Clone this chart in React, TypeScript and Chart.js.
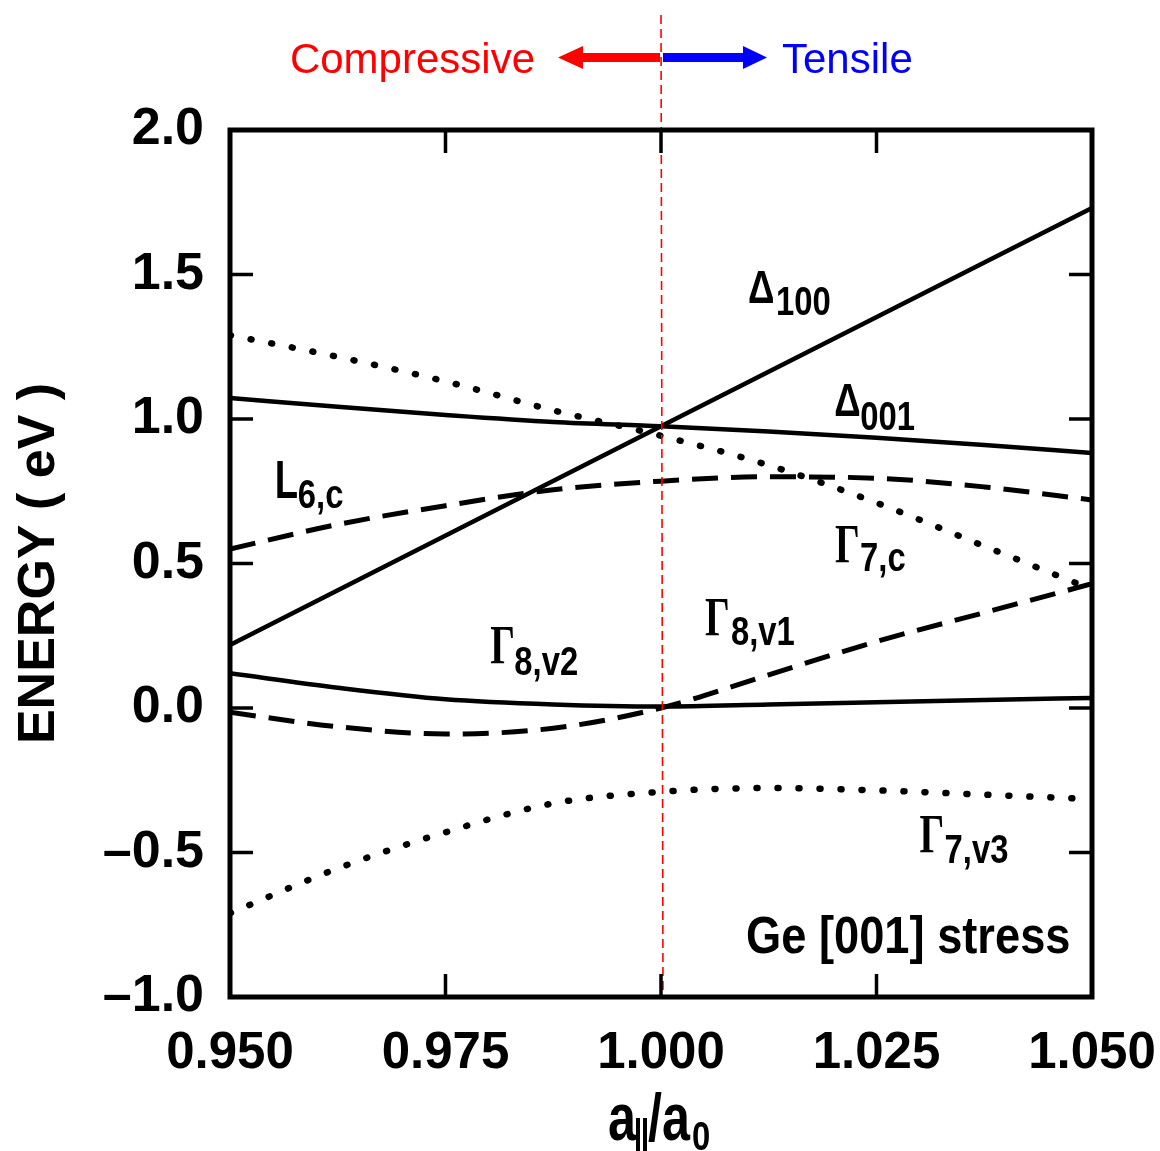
import React, { useEffect, useRef } from 'react';
import { Chart, registerables } from 'chart.js';

Chart.register(...registerables);

// ---- data ----
const X_GRID = [0.95, 0.9625, 0.975, 0.9875, 1.0, 1.0125, 1.025, 1.0375, 1.05];
const DELTA100_X = [0.95, 1.0, 1.05];
const DELTA100 = [0.218, 0.975, 1.73];
const DELTA001 = [1.073, 1.042, 1.014, 0.99, 0.975, 0.957, 0.935, 0.91, 0.882];
const GAMMA7C = [1.29, 1.215, 1.13, 1.03, 0.942, 0.84, 0.71, 0.56, 0.41];
const L6C = [0.55, 0.635, 0.7, 0.755, 0.785, 0.8, 0.795, 0.765, 0.72];
const GAMMA8V2 = [0.12, 0.07, 0.03, 0.012, 0.005, 0.012, 0.02, 0.028, 0.035];
const GAMMA8V1 = [-0.015, -0.065, -0.09, -0.07, 0.0, 0.115, 0.23, 0.33, 0.43];
const GAMMA7V3 = [-0.71, -0.555, -0.43, -0.33, -0.29, -0.277, -0.285, -0.3, -0.315];

const X_TICKS = [0.95, 0.975, 1.0, 1.025, 1.05];
const Y_TICKS = [-1.0, -0.5, 0.0, 0.5, 1.0, 1.5, 2.0];

const SANS = "'Liberation Sans', Arial, sans-serif";
const SERIF = "'Liberation Serif', 'DejaVu Serif', serif";

const zip = (xs: number[], ys: number[]) => xs.map((x, i) => ({ x, y: ys[i] }));

function txt(
  ctx: CanvasRenderingContext2D,
  s: string,
  x: number,
  y: number,
  font: string,
  color: string,
  sx = 1,
  align: CanvasTextAlign = 'left'
) {
  ctx.save();
  ctx.font = font;
  ctx.fillStyle = color;
  ctx.textBaseline = 'alphabetic';
  ctx.textAlign = align;
  ctx.translate(x, y);
  ctx.scale(sx, 1);
  ctx.fillText(s, 0, 0);
  ctx.restore();
}

type Lbl = { main: string; sub: string; x: number; y: number; dx: number; dy: number; kind: 'D' | 'L' | 'G' };
const LABELS: Lbl[] = [
  { main: '\u0394', sub: '100', x: 1.0101, y: 1.401, dx: 28, dy: 12, kind: 'D' },
  { main: '\u0394', sub: '001', x: 1.0201, y: 1.0104, dx: 26, dy: 14, kind: 'D' },
  { main: 'L', sub: '6,c', x: 0.9552, y: 0.7266, dx: 23, dy: 10, kind: 'L' },
  { main: '\u0393', sub: '7,c', x: 1.0202, y: 0.5052, dx: 25, dy: 9, kind: 'G' },
  { main: '\u0393', sub: '8,v1', x: 1.0051, y: 0.2526, dx: 26, dy: 10, kind: 'G' },
  { main: '\u0393', sub: '8,v2', x: 0.9802, y: 0.1557, dx: 24, dy: 12, kind: 'G' },
  { main: '\u0393', sub: '7,v3', x: 1.03, y: -0.4983, dx: 25, dy: 11, kind: 'G' },
];

const decor = {
  id: 'decor',
  beforeDraw(chart: any) {
    const ctx = chart.ctx as CanvasRenderingContext2D;
    ctx.save();
    ctx.fillStyle = '#ffffff';
    ctx.fillRect(0, 0, chart.width, chart.height);
    ctx.restore();
  },
  afterDraw(chart: any) {
    const ctx = chart.ctx as CanvasRenderingContext2D;
    const { left, right, top, bottom } = chart.chartArea;
    const xs = chart.scales.x;
    const ys = chart.scales.y;

    // labels
    for (const l of LABELS) {
      const px = xs.getPixelForValue(l.x);
      const py = ys.getPixelForValue(l.y);
      if (l.kind === 'D') txt(ctx, l.main, px, py, `bold 46px ${SANS}`, '#000', 0.8);
      else if (l.kind === 'L') txt(ctx, l.main, px, py, `bold 53px ${SANS}`, '#000', 0.72);
      else txt(ctx, l.main, px, py, `bold 54px ${SERIF}`, '#000', 0.72);
      txt(ctx, l.sub, px + l.dx, py + l.dy, `bold 40px ${SANS}`, '#000', 0.82);
    }
    txt(ctx, 'Ge [001] stress', xs.getPixelForValue(1.0475), ys.getPixelForValue(-0.8478), `bold 52px ${SANS}`, '#000', 0.87, 'right');

    // red dashed vertical line at a/a0 = 1
    const x1 = xs.getPixelForValue(1.0);
    ctx.save();
    ctx.strokeStyle = '#ff0000';
    ctx.lineWidth = 1.6;
    ctx.setLineDash([9, 5]);
    ctx.beginPath();
    ctx.moveTo(x1, 15);
    ctx.lineTo(x1 + 2, bottom);
    ctx.stroke();
    ctx.restore();

    // frame
    ctx.save();
    ctx.strokeStyle = '#000';
    ctx.lineWidth = 5;
    ctx.strokeRect(left, top, right - left, bottom - top);
    // inward ticks
    ctx.lineWidth = 3.5;
    const tl = 23;
    for (const t of xs.ticks) {
      if (t.value <= xs.min || t.value >= xs.max) continue;
      const p = xs.getPixelForValue(t.value);
      ctx.beginPath();
      ctx.moveTo(p, bottom);
      ctx.lineTo(p, bottom - tl);
      ctx.moveTo(p, top);
      ctx.lineTo(p, top + tl);
      ctx.stroke();
    }
    for (const t of ys.ticks) {
      if (t.value <= ys.min || t.value >= ys.max) continue;
      const p = ys.getPixelForValue(t.value);
      ctx.beginPath();
      ctx.moveTo(left, p);
      ctx.lineTo(left + tl, p);
      ctx.moveTo(right, p);
      ctx.lineTo(right - tl, p);
      ctx.stroke();
    }
    ctx.restore();

    // arrows
    const ay = 57.5;
    ctx.save();
    ctx.fillStyle = '#ff0000';
    ctx.beginPath();
    ctx.moveTo(x1 - 1, ay - 4.5);
    ctx.lineTo(x1 - 78, ay - 4.5);
    ctx.lineTo(x1 - 78, ay - 11.5);
    ctx.lineTo(x1 - 103, ay);
    ctx.lineTo(x1 - 78, ay + 11.5);
    ctx.lineTo(x1 - 78, ay + 4.5);
    ctx.lineTo(x1 - 1, ay + 4.5);
    ctx.closePath();
    ctx.fill();
    ctx.fillStyle = '#0000ff';
    ctx.beginPath();
    ctx.moveTo(x1 + 2, ay - 4.5);
    ctx.lineTo(x1 + 82, ay - 4.5);
    ctx.lineTo(x1 + 82, ay - 11.5);
    ctx.lineTo(x1 + 106, ay);
    ctx.lineTo(x1 + 82, ay + 11.5);
    ctx.lineTo(x1 + 82, ay + 4.5);
    ctx.lineTo(x1 + 2, ay + 4.5);
    ctx.closePath();
    ctx.fill();
    ctx.restore();
    txt(ctx, 'Compressive', x1 - 126, 73, `42px ${SANS}`, '#ff0000', 1, 'right');
    txt(ctx, 'Tensile', x1 + 121, 73, `42px ${SANS}`, '#0000ff', 1, 'left');

    // x-axis title a_||/a_0
    const cx = xs.getPixelForValue(1.0);
    const base = 1140;
    const big = `bold 67px ${SANS}`;
    const small = `bold 40px ${SANS}`;
    txt(ctx, 'a', cx - 53, base, big, '#000', 0.75);
    ctx.save();
    ctx.strokeStyle = '#000';
    ctx.lineWidth = 4;
    ctx.beginPath();
    ctx.moveTo(cx - 23, base - 22);
    ctx.lineTo(cx - 23, base + 11);
    ctx.moveTo(cx - 16, base - 22);
    ctx.lineTo(cx - 16, base + 11);
    ctx.stroke();
    ctx.restore();
    txt(ctx, '/', cx - 13, base, big, '#000', 0.75);
    txt(ctx, 'a', cx + 1, base, big, '#000', 0.75);
    txt(ctx, '0', cx + 31, base + 10, small, '#000', 0.82);
  },
};

export default function App() {
  const ref = useRef<HTMLCanvasElement>(null);
  useEffect(() => {
    document.body.style.margin = '0';
    const solid = { borderColor: '#000', borderWidth: 4.5, pointRadius: 0, cubicInterpolationMode: 'monotone' as const, fill: false };
    const dashed = { ...solid, borderWidth: 5, borderDash: [26, 13] };
    const dotted = { ...solid, borderWidth: 6.5, borderDash: [1, 20], borderCapStyle: 'round' as const };
    const chart = new Chart(ref.current!, {
      type: 'line',
      data: {
        datasets: [
          { label: '\u0394100', data: zip(DELTA100_X, DELTA100), ...solid },
          { label: '\u0394001', data: zip(X_GRID, DELTA001), ...solid },
          { label: '\u03937,c', data: zip(X_GRID, GAMMA7C), ...dotted },
          { label: 'L6,c', data: zip(X_GRID, L6C), ...dashed },
          { label: '\u03938,v2', data: zip(X_GRID, GAMMA8V2), ...solid },
          { label: '\u03938,v1', data: zip(X_GRID, GAMMA8V1), ...dashed },
          { label: '\u03937,v3', data: zip(X_GRID, GAMMA7V3), ...dotted },
        ],
      },
      options: {
        animation: false,
        responsive: false,
        devicePixelRatio: 1,
        layout: { padding: { top: 130, right: 68, left: 0, bottom: 0 } },
        plugins: { legend: { display: false }, tooltip: { enabled: false } },
        scales: {
          x: {
            type: 'linear',
            min: 0.95,
            max: 1.05,
            grid: { display: false },
            border: { display: false },
            afterBuildTicks: (s: any) => {
              s.ticks = X_TICKS.map((v) => ({ value: v }));
            },
            afterFit: (s: any) => {
              s.height = 154;
              s.paddingLeft = 0;
              s.paddingRight = 0;
            },
            ticks: {
              color: '#000',
              padding: 18,
              maxRotation: 0,
              autoSkip: false,
              font: { family: SANS, size: 51, weight: 'bold' },
              callback: (v: any) => Number(v).toFixed(3),
            },
          },
          y: {
            type: 'linear',
            min: -1,
            max: 2,
            grid: { display: false },
            border: { display: false },
            afterBuildTicks: (s: any) => {
              s.ticks = Y_TICKS.map((v) => ({ value: v }));
            },
            afterFit: (s: any) => {
              s.width = 230;
              s.paddingTop = 0;
              s.paddingBottom = 0;
            },
            title: {
              display: true,
              text: 'ENERGY ( eV )',
              color: '#000',
              font: { family: SANS, size: 52, weight: 'bold', lineHeight: 1 },
              padding: { top: 14, bottom: 0 },
            },
            ticks: {
              color: '#000',
              padding: 18,
              autoSkip: false,
              font: { family: SANS, size: 52, weight: 'bold' },
              callback: (v: any) => {
                const n = Number(v);
                return n < 0 ? '\u2013' + Math.abs(n).toFixed(1) : n.toFixed(1);
              },
            },
          },
        },
      },
      plugins: [decor],
    });
    return () => chart.destroy();
  }, []);
  return (
    <div style={{ position: 'absolute', left: 0, top: 0, width: 1160, height: 1151, background: '#fff' }}>
      <canvas ref={ref} width={1160} height={1151} style={{ display: 'block', width: 1160, height: 1151 }} />
    </div>
  );
}
